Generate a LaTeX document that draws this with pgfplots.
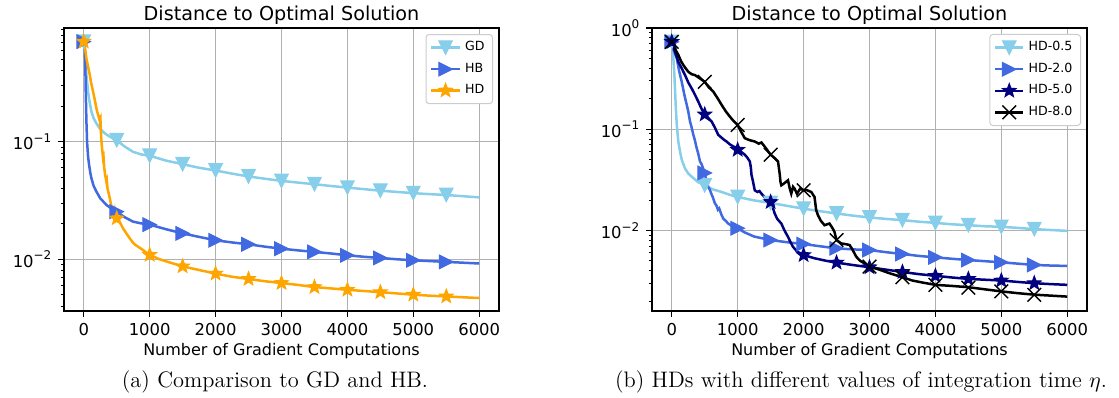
\documentclass[border=0pt]{standalone}
\usepackage{fontspec}
\usepackage{pgfplots}
\pgfplotsset{compat=1.18}
\newfontfamily\dejavu{DejaVu Sans}
\definecolor{skyb}{RGB}{135,206,235}
\definecolor{royal}{RGB}{65,105,225}
\definecolor{orng}{RGB}{255,165,0}
\definecolor{navyc}{RGB}{0,0,128}
\definecolor{gridc}{RGB}{176,176,176}
\definecolor{legc}{RGB}{204,204,204}

\pgfdeclareplotmark{tdown}{%
 \pgfpathmoveto{\pgfqpoint{0pt}{-\pgfplotmarksize}}%
 \pgfpathlineto{\pgfqpoint{-\pgfplotmarksize}{\pgfplotmarksize}}%
 \pgfpathlineto{\pgfqpoint{\pgfplotmarksize}{\pgfplotmarksize}}%
 \pgfpathclose\pgfusepathqfillstroke}
\pgfdeclareplotmark{tright}{%
 \pgfpathmoveto{\pgfqpoint{\pgfplotmarksize}{0pt}}%
 \pgfpathlineto{\pgfqpoint{-\pgfplotmarksize}{\pgfplotmarksize}}%
 \pgfpathlineto{\pgfqpoint{-\pgfplotmarksize}{-\pgfplotmarksize}}%
 \pgfpathclose\pgfusepathqfillstroke}
\pgfdeclareplotmark{fstar}{%
 \pgfpathmoveto{\pgfqpointpolar{90}{\pgfplotmarksize}}%
 \pgfpathlineto{\pgfqpointpolar{126}{0.42\pgfplotmarksize}}%
 \pgfpathlineto{\pgfqpointpolar{162}{\pgfplotmarksize}}%
 \pgfpathlineto{\pgfqpointpolar{198}{0.42\pgfplotmarksize}}%
 \pgfpathlineto{\pgfqpointpolar{234}{\pgfplotmarksize}}%
 \pgfpathlineto{\pgfqpointpolar{270}{0.42\pgfplotmarksize}}%
 \pgfpathlineto{\pgfqpointpolar{306}{\pgfplotmarksize}}%
 \pgfpathlineto{\pgfqpointpolar{342}{0.42\pgfplotmarksize}}%
 \pgfpathlineto{\pgfqpointpolar{18}{\pgfplotmarksize}}%
 \pgfpathlineto{\pgfqpointpolar{54}{0.42\pgfplotmarksize}}%
 \pgfpathclose\pgfusepathqfillstroke}
\pgfdeclareplotmark{xx}{%
 \pgfpathmoveto{\pgfqpoint{-\pgfplotmarksize}{-\pgfplotmarksize}}%
 \pgfpathlineto{\pgfqpoint{\pgfplotmarksize}{\pgfplotmarksize}}%
 \pgfpathmoveto{\pgfqpoint{-\pgfplotmarksize}{\pgfplotmarksize}}%
 \pgfpathlineto{\pgfqpoint{\pgfplotmarksize}{-\pgfplotmarksize}}%
 \pgfusepathqstroke}

\newcommand{\sci}[1]{10\raisebox{0.45em}{\fontsize{6}{6.5}\selectfont #1}}

\pgfplotsset{
 legend image code/.code={\draw[mark repeat=2,mark phase=2,#1] plot coordinates {(0cm,0cm) (0.25cm,0cm) (0.5cm,0cm)};},
 myax/.style={
  scale only axis, width=217.5pt, height=141.5pt,
  xmin=-300, xmax=6300,
  xtick={0,1000,...,6000}, xticklabels={0,1000,2000,3000,4000,5000,6000},
  grid=major, grid style={gridc, line width=0.5pt},
  tick pos=left, tick align=outside,
  major tick length=2.8pt, minor tick length=1.6pt,
  tick style={black, line width=0.6pt}, minor tick style={line width=0.45pt},
  axis line style={black, line width=0.6pt},
  ticklabel style={font=\dejavu\fontsize{8.2}{9.6}\selectfont},
  title style={font=\dejavu\fontsize{9.6}{11}\selectfont, yshift=-8pt},
  title={Distance to Optimal Solution},
  xlabel={Number of Gradient Computations},
  xlabel style={font=\dejavu\fontsize{8}{9.6}\selectfont, at={(axis description cs:0.5,0)}, anchor=center, yshift=-19.9pt},
  legend cell align=left,
  legend style={at={(1,1)}, anchor=north east, xshift=-3pt, yshift=-3pt, draw=legc, line width=0.5pt, rounded corners=1.5pt, fill=white, font=\dejavu\fontsize{6.3}{7.5}\selectfont, inner xsep=2pt, inner ysep=1.5pt, row sep=0.6pt},
 },
 ln/.style={line width=1.25pt},
 mk/.style={only marks, mark size=3.4pt, mark options={solid, line width=0.5pt}},
}

\begin{document}
\begin{tikzpicture}
\path[use as bounding box] (0,0) rectangle (559.5pt,198.5pt);

% ---------------- left ----------------
\begin{axis}[ymode=log, myax, at={(32pt,43pt)}, anchor=south west,
  ymin=0.00363, ymax=0.927,
  ytick={0.01,0.1}, yticklabels={\sci{−2},\sci{−1}},
  minor ytick={0.004,0.005,0.006,0.007,0.008,0.009,0.02,0.03,0.04,0.05,0.06,0.07,0.08,0.09,0.2,0.3,0.4,0.5,0.6,0.7,0.8,0.9}]
\addlegendimage{skyb, line width=1.25pt, mark=tdown, mark size=3.4pt, mark options={fill=skyb, line width=0.5pt}}
\addlegendentry{GD}
\addlegendimage{royal, line width=1.25pt, mark=tright, mark size=3.4pt, mark options={fill=royal, line width=0.5pt}}
\addlegendentry{HB}
\addlegendimage{orng, line width=1.25pt, mark=fstar, mark size=3.6pt, mark options={fill=orng, line width=0.5pt}}
\addlegendentry{HD}

\addplot[skyb, ln, forget plot] coordinates {(0,0.71)(20,0.55)(40,0.37)(66,0.266)(90,0.215)(116,0.18)(150,0.158)(192,0.143)(250,0.128)(318,0.118)(400,0.11)(500,0.103)(620,0.091)(747,0.082)(870,0.078)(1000,0.076)(1250,0.069)(1500,0.0644)(1750,0.060)(2000,0.0569)(2250,0.0535)(2500,0.0506)(2750,0.0484)(3000,0.0464)(3250,0.0449)(3500,0.0435)(3750,0.042)(4000,0.0407)(4250,0.0395)(4500,0.0383)(4750,0.0374)(5000,0.0365)(5250,0.0358)(5500,0.0352)(5750,0.0344)(6000,0.0336)};
\addplot[skyb, mk, mark=tdown, fill=skyb, forget plot] coordinates {(0,0.71)(500,0.103)(1000,0.076)(1500,0.0644)(2000,0.0569)(2500,0.0506)(3000,0.0464)(3500,0.0435)(4000,0.0407)(4500,0.0383)(5000,0.0365)(5500,0.0352)};

\addplot[royal, ln, forget plot] coordinates {(0,0.71)(15,0.6)(25,0.4)(30,0.266)(40,0.15)(50,0.1)(65,0.075)(81,0.0634)(100,0.054)(116,0.0488)(150,0.042)(192,0.0376)(250,0.033)(343,0.029)(420,0.027)(500,0.0254)(620,0.0228)(747,0.0209)(870,0.0202)(1000,0.0197)(1250,0.0180)(1500,0.0166)(1750,0.0155)(2000,0.0145)(2250,0.0139)(2500,0.0134)(2750,0.0128)(3000,0.0123)(3250,0.0119)(3500,0.01155)(3750,0.0112)(4000,0.0108)(4250,0.0105)(4500,0.01026)(4750,0.0100)(5000,0.0098)(5250,0.00965)(5500,0.0095)(5750,0.00935)(6000,0.0092)};
\addplot[royal, mk, mark=tright, fill=royal, forget plot] coordinates {(0,0.71)(500,0.0254)(1000,0.0197)(1500,0.0166)(2000,0.0145)(2500,0.0134)(3000,0.0123)(3500,0.01155)(4000,0.0108)(4500,0.01026)(5000,0.0098)(5500,0.0095)};

\addplot[orng, ln, forget plot] coordinates {(0,0.71)(20,0.62)(40,0.51)(60,0.45)(91,0.37)(110,0.32)(141,0.266)(165,0.23)(192,0.192)(210,0.175)(232,0.158)(240,0.16)(245,0.15)(250,0.14)(255,0.145)(262,0.115)(268,0.1)(280,0.085)(293,0.072)(300,0.074)(310,0.06)(325,0.052)(343,0.0457)(350,0.047)(360,0.04)(384,0.0352)(400,0.032)(419,0.028)(440,0.026)(460,0.0245)(470,0.026)(480,0.024)(500,0.0223)(520,0.021)(550,0.0205)(596,0.0183)(640,0.0168)(697,0.0151)(740,0.0140)(780,0.0133)(823,0.0128)(880,0.0122)(940,0.0115)(1000,0.0109)(1150,0.0100)(1303,0.0094)(1500,0.0087)(1750,0.0081)(2000,0.00755)(2250,0.0071)(2500,0.0068)(2750,0.0065)(3000,0.00628)(3250,0.00605)(3500,0.0058)(3750,0.00565)(4000,0.0055)(4250,0.00537)(4500,0.00525)(4750,0.00512)(5000,0.005)(5250,0.0049)(5500,0.00483)(5750,0.00475)(6000,0.00468)};
\addplot[orng, mk, mark=fstar, mark size=3.6pt, fill=orng, forget plot] coordinates {(0,0.71)(500,0.0223)(1000,0.0109)(1500,0.0087)(2000,0.00755)(2500,0.0068)(3000,0.00628)(3500,0.0058)(4000,0.0055)(4500,0.00525)(5000,0.005)(5500,0.00483)};
\end{axis}

% ---------------- right ----------------
\begin{axis}[ymode=log, myax, at={(326pt,43pt)}, anchor=south west,
  ymin=0.0016, ymax=1.0,
  ytick={0.01,0.1,1}, yticklabels={\sci{−2},\sci{−1},\sci{0}},
  minor ytick={0.002,0.003,0.004,0.005,0.006,0.007,0.008,0.009,0.02,0.03,0.04,0.05,0.06,0.07,0.08,0.09,0.2,0.3,0.4,0.5,0.6,0.7,0.8,0.9}]
\addlegendimage{skyb, line width=1.25pt, mark=tdown, mark size=3.4pt, mark options={fill=skyb, line width=0.5pt}}
\addlegendentry{HD-0.5}
\addlegendimage{royal, line width=1.25pt, mark=tright, mark size=3.4pt, mark options={fill=royal, line width=0.5pt}}
\addlegendentry{HD-2.0}
\addlegendimage{navyc, line width=1.25pt, mark=fstar, mark size=3.6pt, mark options={fill=navyc, line width=0.5pt}}
\addlegendentry{HD-5.0}
\addlegendimage{black, line width=1.25pt, mark=xx, mark size=3.4pt, mark options={line width=0.7pt}}
\addlegendentry{HD-8.0}

\addplot[skyb, ln, forget plot] coordinates {(0,0.73)(20,0.55)(40,0.34)(60,0.17)(76,0.11)(100,0.075)(126,0.06)(151,0.05)(200,0.041)(252,0.0364)(302,0.034)(400,0.030)(499,0.0279)(620,0.0255)(756,0.024)(880,0.0225)(1000,0.0214)(1250,0.0198)(1500,0.0187)(1750,0.0175)(2000,0.0164)(2250,0.0155)(2500,0.0147)(2750,0.014)(3000,0.01343)(3250,0.0130)(3500,0.01264)(3750,0.0122)(4000,0.01188)(4250,0.0115)(4500,0.01127)(4750,0.0110)(5000,0.01086)(5250,0.0106)(5500,0.0103)(5750,0.0101)(6000,0.0099)};
\addplot[skyb, mk, mark=tdown, fill=skyb, forget plot] coordinates {(0,0.73)(500,0.0279)(1000,0.0214)(1500,0.0187)(2000,0.0164)(2500,0.0147)(3000,0.01343)(3500,0.01264)(4000,0.01188)(4500,0.01127)(5000,0.01086)(5500,0.0103)};

\addplot[royal, ln, forget plot] coordinates {(0,0.73)(30,0.6)(76,0.50)(110,0.38)(151,0.294)(190,0.22)(227,0.174)(250,0.15)(277,0.119)(300,0.105)(327,0.088)(350,0.078)(378,0.065)(400,0.058)(428,0.048)(453,0.045)(470,0.042)(500,0.037)(520,0.032)(554,0.0269)(580,0.025)(600,0.023)(620,0.0215)(655,0.0185)(680,0.0175)(700,0.016)(720,0.0165)(750,0.0145)(781,0.0131)(820,0.0124)(856,0.0117)(920,0.011)(1000,0.0105)(1100,0.0096)(1250,0.0087)(1500,0.00803)(1750,0.00765)(2000,0.00734)(2250,0.00698)(2500,0.00665)(2750,0.0065)(3000,0.0064)(3250,0.0061)(3500,0.00585)(3750,0.0056)(4000,0.00542)(4250,0.00525)(4500,0.0051)(4750,0.00497)(5000,0.00484)(5250,0.0047)(5500,0.00456)(5750,0.0045)(6000,0.00446)};
\addplot[royal, mk, mark=tright, fill=royal, forget plot] coordinates {(0,0.73)(500,0.037)(1000,0.0105)(1500,0.00803)(2000,0.00734)(2500,0.00665)(3000,0.0064)(3500,0.00585)(4000,0.00542)(4500,0.0051)(5000,0.00484)(5500,0.00456)};

\addplot[navyc, ln, forget plot] coordinates {(0,0.73)(50,0.58)(101,0.46)(150,0.40)(202,0.342)(250,0.29)(302,0.253)(350,0.22)(403,0.187)(450,0.16)(500,0.14)(550,0.13)(605,0.119)(650,0.105)(705,0.088)(760,0.082)(800,0.078)(831,0.0756)(880,0.071)(932,0.0676)(970,0.066)(1000,0.0626)(1050,0.06)(1108,0.056)(1150,0.052)(1184,0.048)(1200,0.042)(1209,0.0356)(1230,0.031)(1259,0.0249)(1300,0.024)(1330,0.0245)(1360,0.0231)(1420,0.021)(1460,0.0205)(1500,0.0191)(1530,0.017)(1562,0.0147)(1600,0.013)(1662,0.0117)(1710,0.0100)(1763,0.00866)(1800,0.0077)(1839,0.0069)(1900,0.0062)(2000,0.00571)(2166,0.00531)(2350,0.00500)(2500,0.00481)(2750,0.00455)(3000,0.00433)(3250,0.0041)(3500,0.00389)(3750,0.0037)(4000,0.00356)(4250,0.00343)(4500,0.00332)(4750,0.00326)(5000,0.0032)(5250,0.0031)(5500,0.00301)(5750,0.00295)(6000,0.0029)};
\addplot[navyc, mk, mark=fstar, mark size=3.6pt, fill=navyc, forget plot] coordinates {(0,0.73)(500,0.14)(1000,0.0626)(1500,0.0191)(2000,0.00571)(2500,0.00481)(3000,0.00433)(3500,0.00389)(4000,0.00356)(4500,0.00332)(5000,0.0032)(5500,0.00301)};

\addplot[black, ln, forget plot] coordinates {(0,0.73)(50,0.62)(101,0.54)(140,0.47)(176,0.43)(210,0.40)(252,0.369)(300,0.35)(353,0.342)(420,0.32)(500,0.294)(560,0.26)(630,0.235)(700,0.2)(756,0.174)(820,0.15)(882,0.133)(940,0.12)(1000,0.11)(1050,0.095)(1108,0.0815)(1180,0.078)(1259,0.0756)(1320,0.072)(1360,0.074)(1420,0.066)(1500,0.056)(1560,0.052)(1612,0.048)(1637,0.0364)(1650,0.03)(1662,0.0279)(1700,0.029)(1763,0.0313)(1790,0.026)(1813,0.0231)(1840,0.027)(1863,0.0259)(1900,0.023)(1950,0.026)(2000,0.0249)(2050,0.025)(2116,0.024)(2166,0.0214)(2190,0.016)(2217,0.0142)(2260,0.0125)(2317,0.01127)(2393,0.0117)(2440,0.0105)(2468,0.0097)(2500,0.00803)(2569,0.00745)(2650,0.0073)(2698,0.00718)(2740,0.0065)(2799,0.0055)(2860,0.0050)(2924,0.00473)(3000,0.0044)(3150,0.0041)(3302,0.00378)(3500,0.00345)(3650,0.0032)(3811,0.00305)(4000,0.0029)(4250,0.00283)(4500,0.00275)(4750,0.00262)(5000,0.0025)(5250,0.0024)(5500,0.00232)(5750,0.00227)(6000,0.00222)};
\addplot[black, mk, mark=xx, mark options={line width=0.7pt}, forget plot] coordinates {(0,0.73)(500,0.294)(1000,0.11)(1500,0.056)(2000,0.0249)(2500,0.00803)(3000,0.0044)(3500,0.00345)(4000,0.0029)(4500,0.00272)(5000,0.0025)(5500,0.00231)};
\end{axis}

\node[font=\fontsize{11.2}{13.4}\selectfont] at (137.5pt,7.5pt) {(a) Comparison to GD and HB.};
\node[font=\fontsize{11.2}{13.4}\selectfont] at (430.5pt,7.5pt) {(b) HDs with different values of integration time $\eta$.};
\end{tikzpicture}
\end{document}
